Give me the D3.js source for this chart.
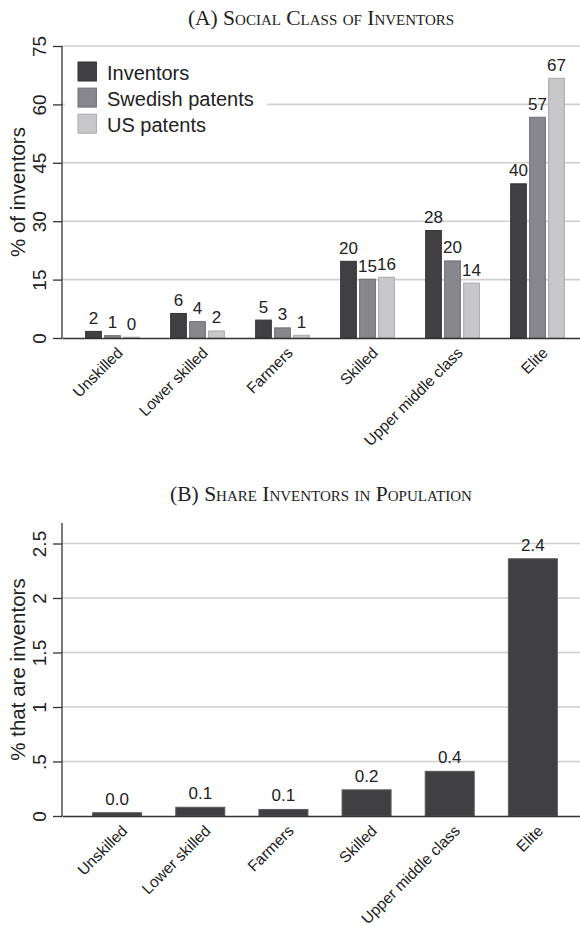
<!DOCTYPE html>
<html>
<head>
<meta charset="utf-8">
<script src="https://cdn.jsdelivr.net/npm/d3@7"></script>
<style>
  body { margin: 0; background: #fff; }
  text { font-family: "Liberation Sans", Arial, sans-serif; fill: #222; }
  .title { font-family: "Liberation Serif", "Times New Roman", serif; font-variant: small-caps; }
</style>
</head>
<body>
<svg id="chart"></svg>
<script>
const classes = ["Unskilled", "Lower skilled", "Farmers", "Skilled", "Upper middle class", "Elite"]
const seriesNames = ["Inventors", "Swedish patents", "US patents"]
const inventorsPct = [1.7, 6.3, 4.6, 19.7, 27.6, 39.6]
const swedishPct = [0.6, 4.2, 2.6, 15.1, 19.8, 56.7]
const usPct = [0.2, 1.8, 0.7, 15.6, 14.1, 66.7]
const shareInventors = [0.03, 0.08, 0.06, 0.24, 0.41, 2.36]
const yTicksA = [0, 15, 30, 45, 60, 75]
const yTicksB = [0, 0.5, 1, 1.5, 2, 2.5]
const yTickLabelsB = ["0", ".5", "1", "1.5", "2", "2.5"]

width = 580
height = 926
AXIS_X = 62
RIGHT = 588

let svg = d3.select("#chart").attr("width", width).attr("height", height)

var color = d3.scaleOrdinal().domain(seriesNames).range(["#404043", "#88888c", "#c8c8ca"])
var stroke = d3.scaleOrdinal().domain(seriesNames).range(["#333335", "#6e6e72", "#a9a9ac"])

function drawTitle(label, y) {
    svg.append("text").attr("class", "title")
        .attr("x", (AXIS_X + 580) / 2).attr("y", y)
        .attr("text-anchor", "middle")
        .style("font-size", "21.5px")
        .text(label)
}

function drawYAxis(y, ticks, fmt, title, top, bottom) {
    // grid
    svg.append("g").selectAll("line")
        .data(ticks.filter(t => t > 0))
        .enter().append("line")
        .attr("x1", AXIS_X).attr("x2", width)
        .attr("y1", d => y(d)).attr("y2", d => y(d))
        .attr("stroke", "#cfcfcf").attr("stroke-width", 1.6)

    let ax = svg.append("g")
        .attr("transform", `translate(${AXIS_X},0)`)
        .call(d3.axisLeft(y).tickValues(ticks).tickSize(9).tickSizeOuter(0).tickFormat(fmt))
    ax.select(".domain").remove()
    ax.append("line").attr("x1", 0).attr("x2", 0).attr("y1", top).attr("y2", bottom)
        .attr("stroke", "#333").attr("stroke-width", 1.3)
    ax.selectAll(".tick line").attr("stroke", "#333").attr("stroke-width", 1.3)
    ax.selectAll(".tick text")
        .attr("x", null).attr("dy", null)
        .attr("transform", "translate(-16,0) rotate(-90)")
        .attr("text-anchor", "middle")
        .style("font-size", "19px")
        .style("font-family", "Liberation Sans, Arial, sans-serif")
        .attr("fill", "#222")

    svg.append("text")
        .attr("transform", `translate(25,${(top + bottom) / 2}) rotate(-90)`)
        .attr("text-anchor", "middle")
        .style("font-size", "20.5px")
        .text(title)
}

function drawXAxis(x, y0) {
    let ax = svg.append("g")
        .attr("transform", `translate(0,${y0})`)
        .call(d3.axisBottom(x).tickSize(0).tickSizeOuter(0))
    ax.select(".domain").attr("stroke", "#333").attr("stroke-width", 1.3)
    ax.selectAll(".tick text")
        .attr("x", 0).attr("y", 0).attr("dy", "0.71em")
        .attr("transform", "translate(3,8) rotate(-45)")
        .attr("text-anchor", "end")
        .style("font-size", "15.5px")
        .style("font-family", "Liberation Sans, Arial, sans-serif")
        .attr("fill", "#222")
}

// ---- panel A
drawTitle("(A) Social Class of Inventors", 25)

var xA = d3.scalePoint().domain(classes).range([AXIS_X, RIGHT]).padding(0.594)
var sub = d3.scaleBand().domain(seriesNames).range([-26.85, 26.85]).paddingInner(0.174)
var yA = d3.scaleLinear().domain([0, 75]).range([338, 46])

drawYAxis(yA, yTicksA, d3.format("d"), "% of inventors", yA(75), yA(0))

let rowsA = []
classes.forEach((c, i) => {
    rowsA.push({ cls: c, series: seriesNames[0], value: inventorsPct[i] })
    rowsA.push({ cls: c, series: seriesNames[1], value: swedishPct[i] })
    rowsA.push({ cls: c, series: seriesNames[2], value: usPct[i] })
})

let barsA = svg.append("g")
barsA.selectAll("rect").data(rowsA).enter().append("rect")
    .attr("x", d => xA(d.cls) + sub(d.series))
    .attr("width", sub.bandwidth())
    .attr("y", d => yA(d.value))
    .attr("height", d => yA(0) - yA(d.value))
    .attr("fill", d => color(d.series))
    .attr("stroke", d => stroke(d.series))
    .attr("stroke-width", 1)

barsA.selectAll("text").data(rowsA).enter().append("text")
    .attr("x", d => xA(d.cls) + sub(d.series) + sub.bandwidth() / 2)
    .attr("y", d => yA(d.value) - 7.5)
    .attr("text-anchor", "middle")
    .style("font-size", "17px")
    .attr("fill", "#333")
    .text(d => d3.format(".0f")(d.value))

drawXAxis(xA, yA(0))

// legend
let legend = svg.append("g")
legend.append("rect").attr("x", 65).attr("y", 54).attr("width", 202).attr("height", 86).attr("fill", "#fff")
seriesNames.forEach((s, i) => {
    let g = legend.append("g").attr("transform", `translate(78,${62 + i * 26.1})`)
    g.append("rect").attr("width", 18.4).attr("height", 19)
        .attr("fill", color(s)).attr("stroke", stroke(s)).attr("stroke-width", 1)
    g.append("text").attr("x", 29).attr("y", 17.5)
        .style("font-size", "20px")
        .text(s)
})

// ---- panel B
drawTitle("(B) Share Inventors in Population", 501)

var xB = d3.scalePoint().domain(classes).range([AXIS_X, RIGHT]).padding(0.663)
var yB = d3.scaleLinear().domain([0, 2.5]).range([816, 543.5])
const BAR_B = 49

drawYAxis(yB, yTicksB, (d, i) => yTickLabelsB[i], "% that are inventors", 523, yB(0))

let rowsB = classes.map((c, i) => ({ cls: c, value: shareInventors[i] }))
let barsB = svg.append("g")
barsB.selectAll("rect").data(rowsB).enter().append("rect")
    .attr("x", d => xB(d.cls) - BAR_B / 2)
    .attr("width", BAR_B)
    .attr("y", d => yB(d.value))
    .attr("height", d => yB(0) - yB(d.value))
    .attr("fill", "#404042")
    .attr("stroke", "#5a5a5c")
    .attr("stroke-width", 1)

barsB.selectAll("text").data(rowsB).enter().append("text")
    .attr("x", d => xB(d.cls))
    .attr("y", d => yB(d.value) - 8)
    .attr("text-anchor", "middle")
    .style("font-size", "17px")
    .attr("fill", "#333")
    .text(d => d3.format(".1f")(d.value))

drawXAxis(xB, yB(0))
</script>
</body>
</html>
